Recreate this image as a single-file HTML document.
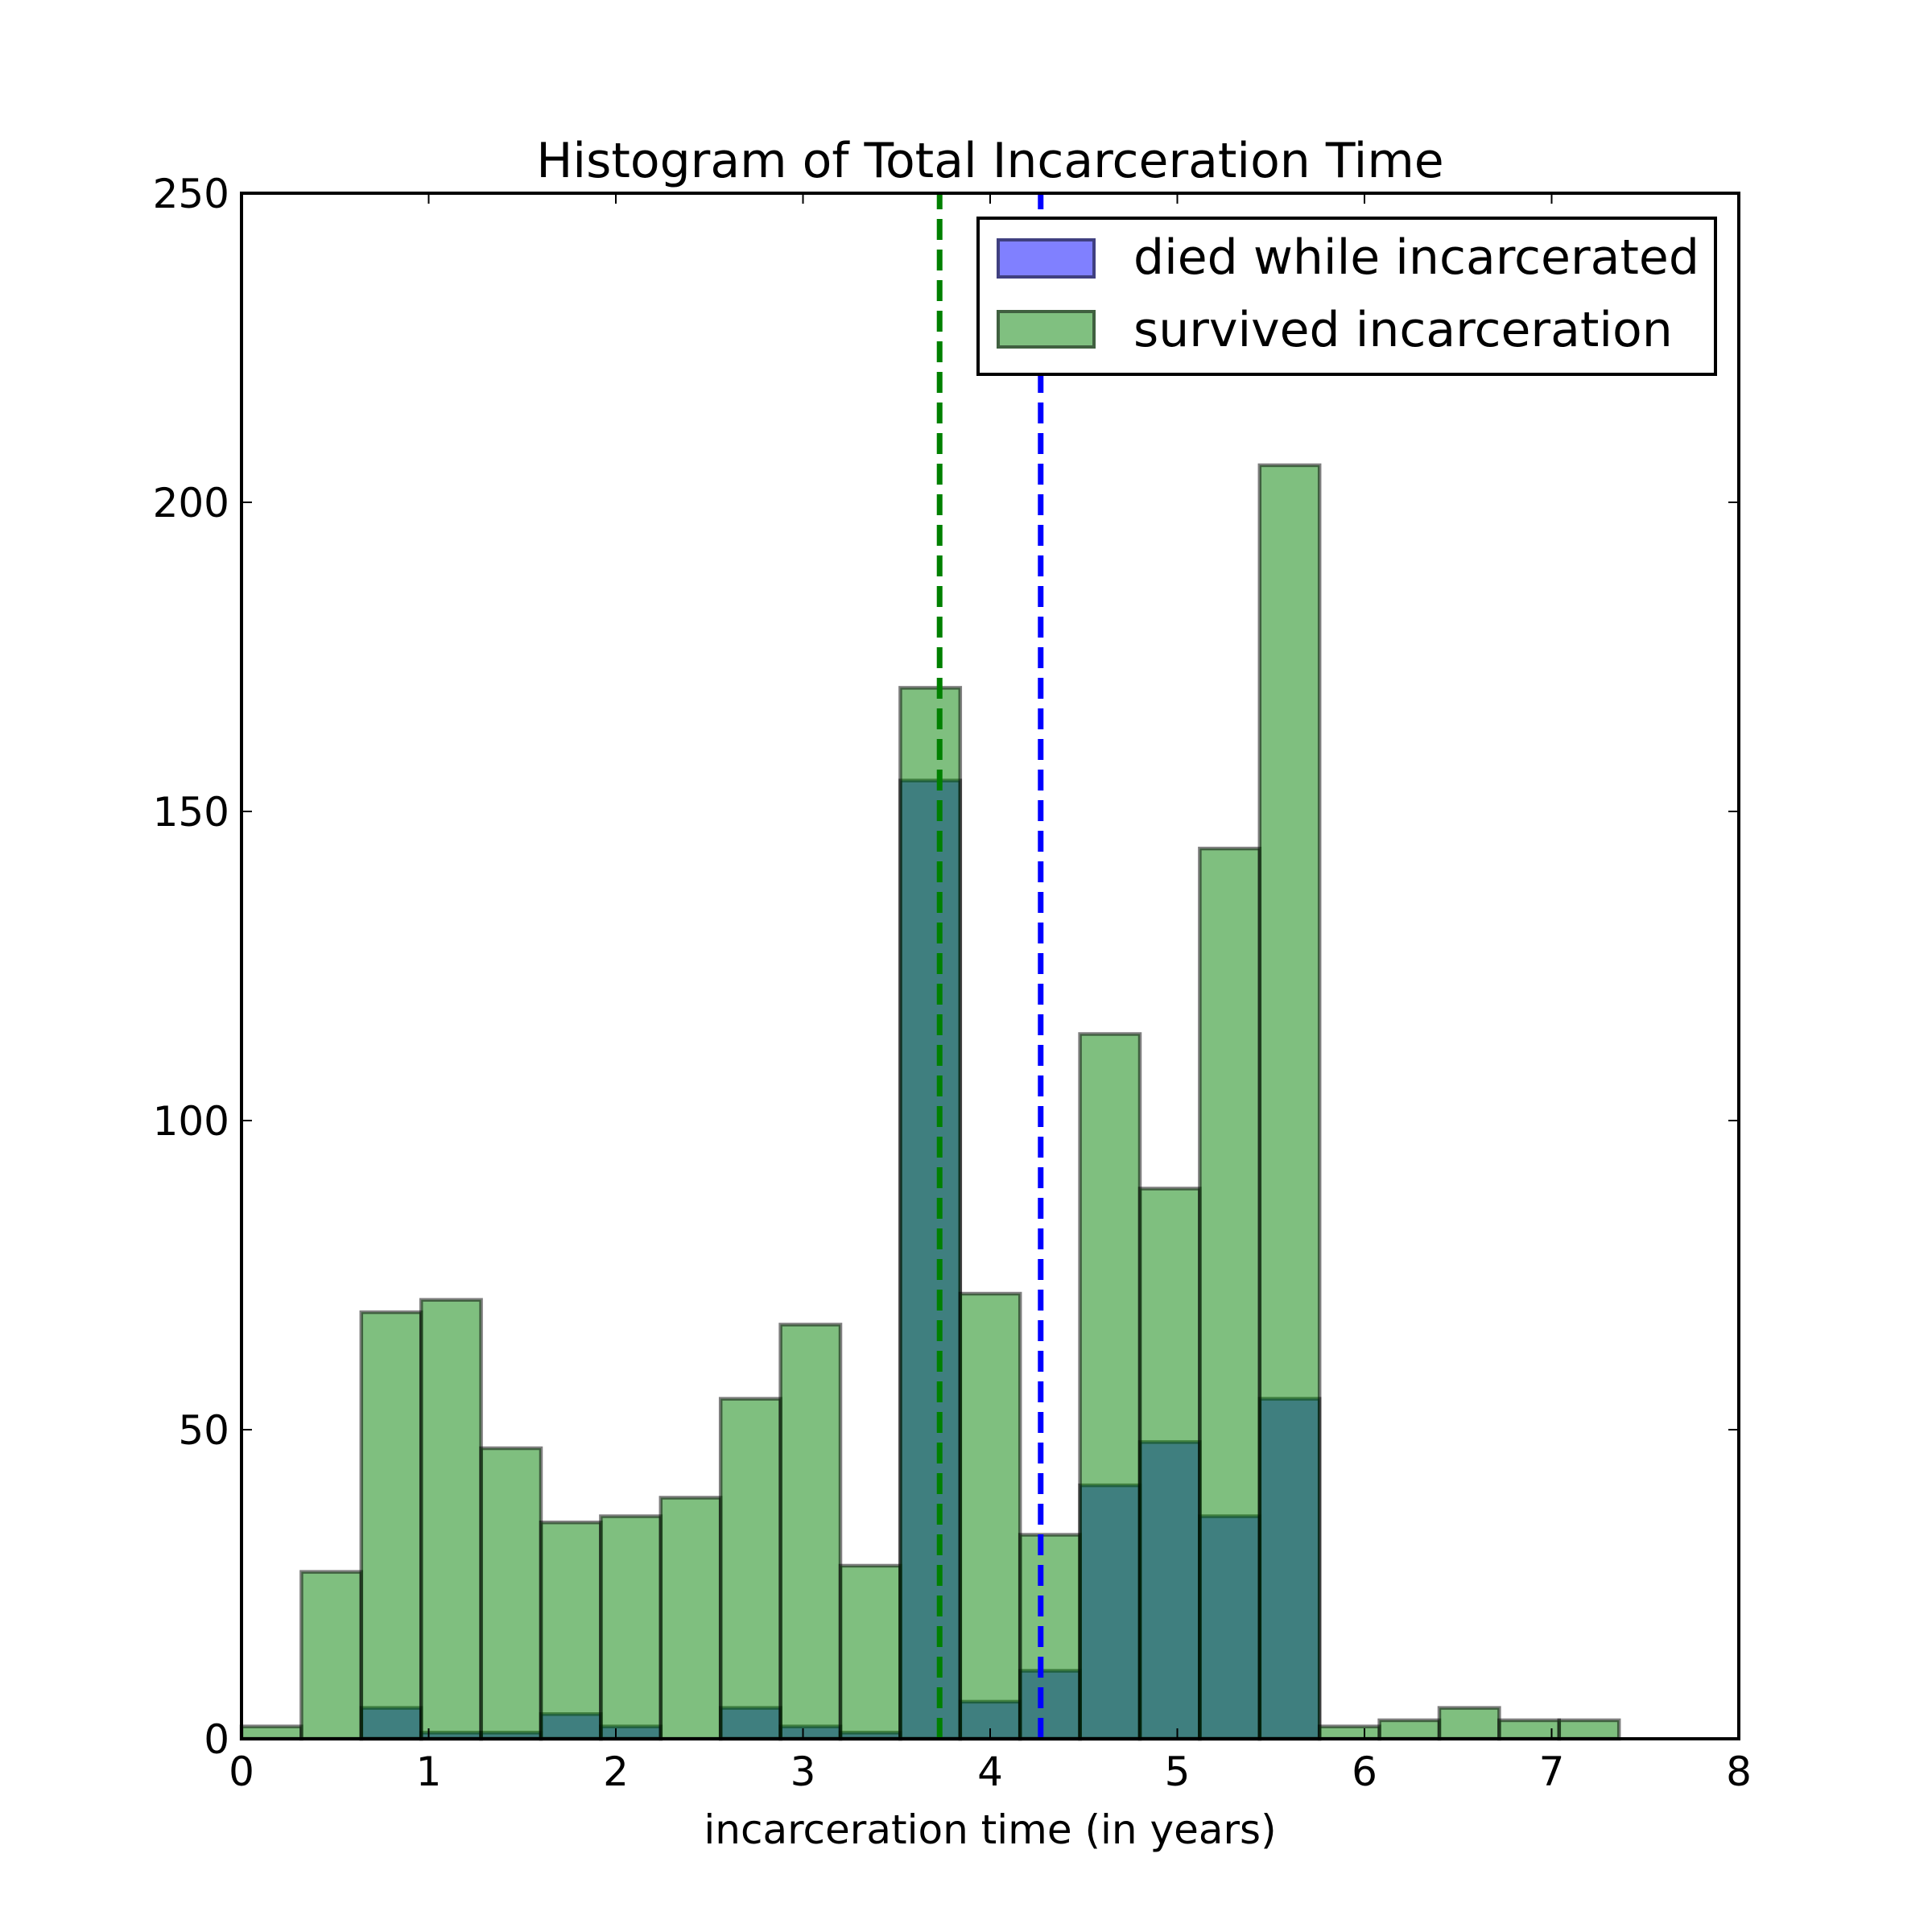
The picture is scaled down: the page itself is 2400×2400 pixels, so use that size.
<!DOCTYPE html>
<html><head><meta charset="utf-8"><style>
html,body{margin:0;padding:0;background:#fff;width:2400px;height:2400px;overflow:hidden}
text{font-family:"DejaVu Sans","Liberation Sans",sans-serif;fill:#000}
</style></head><body>
<svg id="chart" width="2400" height="2400" viewBox="0 0 2400 2400" xmlns="http://www.w3.org/2000/svg">
<rect width="2400" height="2400" fill="#fff"/>
<g id="bars"></g>
<g id="lines"></g>
<g id="axes"></g>
<text x="1230" y="220" font-size="60" text-anchor="middle">Histogram of Total Incarceration Time</text>
<text x="1230" y="2290" font-size="50" text-anchor="middle">incarceration time (in years)</text>
<g>
<rect x="1215" y="271" width="916" height="194" fill="#fff" stroke="#000" stroke-width="4"/>
<rect x="1240" y="298" width="119" height="46" fill="#8080ff" stroke="#404080" stroke-width="4"/>
<text x="1408" y="340" font-size="60">died while incarcerated</text>
<rect x="1240" y="387" width="119" height="44" fill="#80c080" stroke="#406040" stroke-width="4"/>
<text x="1408" y="430" font-size="60">survived incarceration</text>
</g>
</svg>
<script>
const binEdgesStart = 0;
const binWidth = 0.32;
const diedCounts = [0,0,5,1,1,4,2,0,5,2,1,155,6,11,41,48,36,55];
const survivedCounts = [2,27,69,71,47,35,36,39,55,67,28,170,72,33,114,89,144,206,2,3,5,3,3];
const meanLines = [3.73, 4.27];
const meanColors = ['#008000','#0000ff'];
const xTicks = [0,1,2,3,4,5,6,7,8];
const yTicks = [0,50,100,150,200,250];

const L=300,R=2160,T=240,B=2160;
const xs=v=>L+(v-0)/8*(R-L);
const ys=v=>B-v/250*(B-T);
const NS='http://www.w3.org/2000/svg';
function mk(tag,attrs,parent){const e=document.createElementNS(NS,tag);for(const k in attrs)e.setAttribute(k,attrs[k]);parent.appendChild(e);return e;}
const bars=document.getElementById('bars');
diedCounts.forEach((c,i)=>{
  if(c<=0)return;
  const x0=xs(binEdgesStart+i*binWidth),x1=xs(binEdgesStart+(i+1)*binWidth);
  const r=mk('rect',{x:x0,y:ys(c),width:x1-x0,height:B-ys(c),fill:'#0000ff','fill-opacity':0.5,stroke:'#000','stroke-opacity':0.5,'stroke-width':4.5},bars);
  
  
});
survivedCounts.forEach((c,i)=>{
  const x0=xs(binEdgesStart+i*binWidth),x1=xs(binEdgesStart+(i+1)*binWidth);
  const r=mk('rect',{x:x0,y:ys(c),width:x1-x0,height:B-ys(c),fill:'#008000','fill-opacity':0.5,stroke:'#000','stroke-opacity':0.5,'stroke-width':4.5},bars);
  
  
});
const lines=document.getElementById('lines');
meanLines.forEach((m,i)=>{
  const l=mk('line',{x1:xs(m),x2:xs(m),y1:ys(0),y2:ys(250),stroke:meanColors[i],'stroke-width':7,'stroke-dasharray':'26,12'},lines);
  
  
});
const ax=document.getElementById('axes');
const frame=mk('rect',{x:L,y:T,width:R-L,height:B-T,fill:'none',stroke:'#000','stroke-width':4},ax);


xTicks.forEach(t=>{
  const x=xs(t);
  mk('line',{x1:x,x2:x,y1:B,y2:B-13,stroke:'#000','stroke-width':2},ax);
  mk('line',{x1:x,x2:x,y1:T,y2:T+13,stroke:'#000','stroke-width':2},ax);
  const tx=mk('text',{x:x,y:B+58,'font-size':50,'text-anchor':'middle'},ax);
  tx.textContent=t;
  
  
});
yTicks.forEach(t=>{
  const y=ys(t);
  mk('line',{x1:L,x2:L+13,y1:y,y2:y,stroke:'#000','stroke-width':2},ax);
  mk('line',{x1:R,x2:R-13,y1:y,y2:y,stroke:'#000','stroke-width':2},ax);
  const tx=mk('text',{x:L-15,y:y+18,'font-size':50,'text-anchor':'end'},ax);
  tx.textContent=t;
  
  
});
</script>
</body></html>
